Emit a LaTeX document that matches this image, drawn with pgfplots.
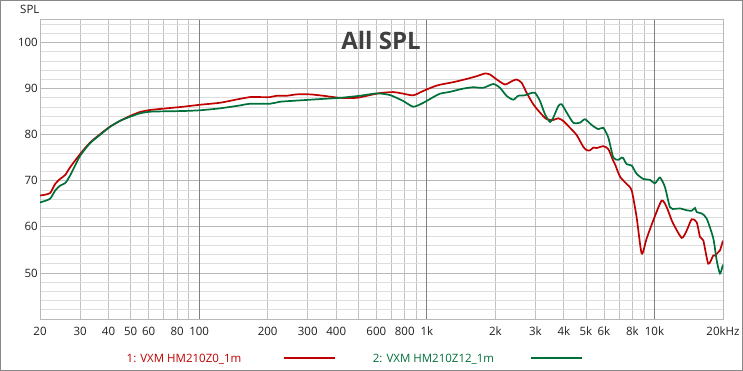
\documentclass[border=0pt]{standalone}
\usepackage{pgfplots}
\pgfplotsset{compat=1.18}
\usepackage{pgfplotstable}
\usepackage{fontspec}
\setmainfont{Open Sans}
\definecolor{cred}{HTML}{C00000}
\definecolor{cgreen}{HTML}{00703A}
\definecolor{framegray}{HTML}{888888}
\definecolor{axgray}{HTML}{B8B8B8}
\definecolor{minorh}{HTML}{DDDDDD}
\definecolor{minorv}{HTML}{C2C2C2}
\definecolor{decade}{HTML}{808080}
\definecolor{titlegray}{HTML}{404040}
\definecolor{labelgray}{HTML}{202020}

\pgfplotstableread{
f db
20 66.8
22.1 67.3
23.3 69.3
24.5 70.4
25.8 71.25
27.1 72.9
30.0 75.8
33.2 78.3
36.7 80.1
40.6 81.75
44.9 83.0
49.7 84.06
55.0 84.92
60.9 85.36
72.0 85.72
85.2 86.07
100.9 86.5
123.5 86.93
146.2 87.64
167.3 88.16
185.1 88.16
204.8 88.16
219.1 88.45
242.4 88.45
268.3 88.75
306.9 88.75
351.1 88.45
415.6 88.0
492.1 88.0
562.9 88.6
622.8 89.03
712.4 89.25
788.4 88.9
872.3 88.55
965.5 89.5
1068 90.4
1143 90.85
1307 91.4
1497 92.1
1656 92.7
1801 93.28
1895 93.06
2028 91.98
2205 90.9
2360 91.6
2482 91.98
2611 91.25
2745 89.1
2936 86.6
3142 84.8
3362 83.36
3594 83.2
3781 83.56
3977 82.98
4256 81.5
4554 79.9
4868 77.36
5038 76.65
5209 76.6
5385 77.2
5573 77.1
5959 77.5
6268 76.87
6594 74.3
6708 73.6
7056 70.9
7550 69.3
7941 67.9
8353 62.0
8787 54.2
9242 57.5
9880 61.4
10755 65.7
11314 64.25
11901 61.4
12096 60.67
13169 57.6
13851 59.2
14571 61.65
15326 61.0
15845 57.8
16384 57.06
17235 52.0
18128 53.8
18443 53.8
19069 54.5
19400 54.9
20000 57.0
}\redtab

\pgfplotstableread{
f db
20 65.3
22.1 66.07
23.3 67.86
24.5 68.94
25.8 69.5
27.1 71.1
30.0 75.4
33.2 78.16
36.7 79.96
40.6 81.7
44.9 83.0
49.7 83.9
55.0 84.64
60.9 84.99
72.0 85.08
85.2 85.14
100.9 85.3
123.5 85.72
151.2 86.35
167.3 86.72
204.8 86.72
226.5 87.15
277.4 87.45
339.6 87.73
415.6 88.0
508.8 88.45
602.4 88.96
689 88.6
788.4 87.3
872.3 86.07
965.5 86.93
1068 88.16
1143 88.9
1264 89.3
1446 90.0
1600 90.3
1770 90.17
1959 91.0
2096 90.17
2243 88.4
2398 87.6
2523 88.45
2698 88.55
2840 88.96
2986 89.1
3142 87.3
3304 84.43
3476 82.76
3594 83.7
3781 86.2
3913 86.6
4116 84.8
4400 82.6
4708 82.6
4952 83.36
5299 82.1
5665 81.2
5959 81.5
6268 79.4
6594 75.05
6936 74.56
7178 75.05
7295 74.9
7550 73.6
7941 73.3
8353 71.5
8930 70.4
9556 70.2
10051 69.45
10571 70.7
11121 68.6
11698 64.25
12306 63.9
12944 64.0
13851 63.6
14571 63.5
15065 64.1
15326 63.2
16120 62.9
16957 61.8
18128 57.5
18763 52.7
19400 49.9
20000 51.8
}\greentab

\begin{document}
\begin{tikzpicture}[x=1pt,y=1pt]
\useasboundingbox (0,0) rectangle (743,371);
\draw[framegray, line width=1.3pt] (0.65,0.65) rectangle (742.35,370.35);
\begin{axis}[
  at={(40pt,52pt)}, anchor=south west,
  scale only axis, width=683pt, height=299.5pt,
  xmode=log, xmin=20, xmax=20000, ymin=40, ymax=105,
  axis line style={axgray, line width=0.8pt},
  major tick length=0pt, minor tick length=0pt,
  xtick={20,30,40,50,60,80,100,200,300,400,600,800,1000,2000,3000,4000,5000,6000,8000,10000,20000},
  xticklabels={20,30,40,50,60,80,100,200,300,400,600,800,1k,2k,3k,4k,5k,6k,8k,10k,20kHz},
  minor xtick={30,40,50,60,70,80,90,200,300,400,500,600,700,800,900,2000,3000,4000,5000,6000,7000,8000,9000},
  xminorgrids=true,
  minor x grid style={minorv, line width=0.8pt},
  extra x ticks={100,1000,10000},
  extra x tick labels={},
  extra x tick style={xmajorgrids=true, major x grid style={decade, line width=0.8pt}},
  ytick={50,60,70,80,90,100},
  minor ytick={42,44,46,48,52,54,56,58,62,64,66,68,72,74,76,78,82,84,86,88,92,94,96,98,102,104},
  ymajorgrids=true, yminorgrids=true,
  major y grid style={axgray, line width=0.8pt},
  minor y grid style={minorh, line width=0.8pt},
  tick label style={font=\fontsize{11.5}{13}\selectfont, text=labelgray},
  /pgf/number format/assume math mode=true,
  xticklabel style={anchor=base, inner sep=0pt, yshift=-17pt},
  yticklabel style={anchor=east, inner sep=0pt, xshift=-2pt},
  clip=true,
]
\addplot[cred, line width=1.7pt, smooth, tension=0.4] table[x=f, y=db] {\redtab};
\addplot[cgreen, line width=1.7pt, smooth, tension=0.4] table[x=f, y=db] {\greentab};
\end{axis}
\node[anchor=base west, inner sep=0pt, text=labelgray, font=\fontsize{11.5}{13}\selectfont] at (20,357.7) {SPL};
\node[anchor=base, inner sep=0pt, text=titlegray, font=\fontsize{24}{28}\selectfont\bfseries] at (381,321) {All SPL};
\node[anchor=base west, inner sep=0pt, text=cred, font=\fontsize{11.5}{13}\selectfont] at (126.5,8) {1: VXM HM210Z0\_1m};
\draw[cred, line width=2pt] (284,13) -- (334.5,13);
\node[anchor=base west, inner sep=0pt, text=cgreen, font=\fontsize{11.5}{13}\selectfont] at (372.7,8) {2: VXM HM210Z12\_1m};
\draw[cgreen, line width=2pt] (531,13) -- (581.7,13);
\end{tikzpicture}
\end{document}
